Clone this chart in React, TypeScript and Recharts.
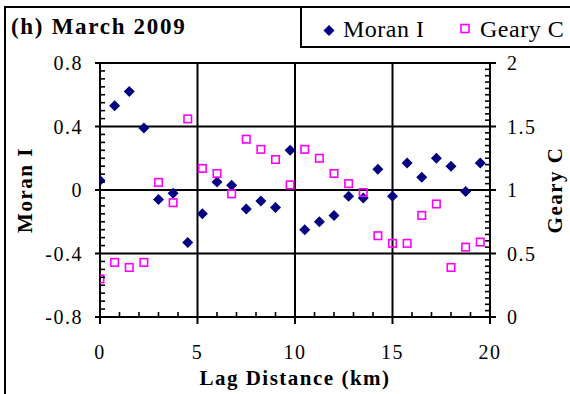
import React from 'react';
import { ScatterChart, Scatter, XAxis, YAxis, ReferenceLine, Legend } from 'recharts';

// Lag distance (km)
const lags = [0, 0.75, 1.5, 2.25, 3, 3.75, 4.5, 5.25, 6, 6.75, 7.5, 8.25, 9, 9.75, 10.5, 11.25, 12, 12.75, 13.5, 14.25, 15, 15.75, 16.5, 17.25, 18, 18.75, 19.5];
// Moran I (left axis)
const moranValues = [0.06, 0.53, 0.62, 0.39, -0.06, -0.02, -0.33, -0.15, 0.05, 0.03, -0.12, -0.07, -0.11, 0.25, -0.25, -0.2, -0.16, -0.04, -0.05, 0.13, -0.04, 0.17, 0.08, 0.2, 0.15, -0.01, 0.17];
// Geary C (right axis)
const gearyValues = [0.3, 0.43, 0.39, 0.43, 1.06, 0.9, 1.56, 1.17, 1.13, 0.97, 1.4, 1.32, 1.24, 1.04, 1.32, 1.25, 1.13, 1.05, 0.98, 0.64, 0.58, 0.58, 0.8, 0.89, 0.39, 0.55, 0.59];

const xMajorTicks = [0, 5, 10, 15, 20];
const xAllTicks = [0, 1, 2, 3, 4, 5, 6, 7, 8, 9, 10, 11, 12, 13, 14, 15, 16, 17, 18, 19, 20];
const leftMajorTicks = [-0.8, -0.4, 0, 0.4, 0.8];
const rightMajorTicks = [0, 0.5, 1, 1.5, 2];
const minorStep = 0.05;
const verticalGrid = [5, 10, 15];
const horizontalGrid = [-0.4, 0, 0.4, 0.8];

const makeTicks = (lo: number, hi: number, step: number) => {
  const n = Math.round((hi - lo) / step);
  return Array.from({ length: n + 1 }, (_, i) => Number((lo + i * step).toFixed(4)));
};
const leftAllTicks = makeTicks(-0.8, 0.8, minorStep);
const rightAllTicks = makeTicks(0, 2, minorStep);

const moranData = lags.map((x, i) => ({ x, y: moranValues[i] }));
const gearyData = lags.map((x, i) => ({ x, y: gearyValues[i] }));

const FONT = '"Liberation Serif", "Times New Roman", Times, serif';
const NAVY = '#000080';
const MAGENTA = '#FF00FF';
const LW = 2;
const MW = 1.6;

const fmt = (v: number) => String(Number(v.toFixed(2)));
const isMajor = (list: number[], v: number) => list.some((m) => Math.abs(m - v) < 1e-6);

const XTick = (props: any) => {
  const { x, y, payload } = props;
  if (!isMajor(xMajorTicks, payload.value)) {
    return <line x1={x} y1={y} x2={x} y2={y - 5} stroke="#000" strokeWidth={MW} />;
  }
  return (
    <g>
      <line x1={x} y1={y} x2={x} y2={y + 7} stroke="#000" strokeWidth={LW} />
      <text x={x} y={y + 42} textAnchor="middle" fontFamily={FONT} fontSize={20} letterSpacing={1.5} fill="#000">
        {fmt(payload.value)}
      </text>
    </g>
  );
};

const LeftTick = (props: any) => {
  const { x, y, payload } = props;
  if (!isMajor(leftMajorTicks, payload.value)) {
    return <line x1={x} y1={y} x2={x + 5} y2={y} stroke="#000" strokeWidth={MW} />;
  }
  return (
    <g>
      <line x1={x - 5} y1={y} x2={x} y2={y} stroke="#000" strokeWidth={LW} />
      <text x={x - 17} y={y + 7} textAnchor="end" fontFamily={FONT} fontSize={20} letterSpacing={1.5} fill="#000">
        {fmt(payload.value)}
      </text>
    </g>
  );
};

const RightTick = (props: any) => {
  const { x, y, payload } = props;
  if (!isMajor(rightMajorTicks, payload.value)) {
    return <line x1={x - 5} y1={y} x2={x} y2={y} stroke="#000" strokeWidth={MW} />;
  }
  return (
    <g>
      <line x1={x} y1={y} x2={x + 6} y2={y} stroke="#000" strokeWidth={LW} />
      <text x={x + 17} y={y + 7} textAnchor="start" fontFamily={FONT} fontSize={20} letterSpacing={1.5} fill="#000">
        {fmt(payload.value)}
      </text>
    </g>
  );
};

const Diamond = (props: any) => {
  const { cx, cy } = props;
  const r = 5.5;
  return <polygon points={`${cx},${cy - r} ${cx + r},${cy} ${cx},${cy + r} ${cx - r},${cy}`} fill={NAVY} />;
};

const Square = (props: any) => {
  const { cx, cy } = props;
  const s = 7.5;
  return <rect x={cx - s / 2} y={cy - s / 2} width={s} height={s} fill="none" stroke={MAGENTA} strokeWidth={1.6} />;
};

const LegendContent = (props: any) => {
  const { payload } = props;
  const items = payload || [];
  return (
    <div
      style={{
        width: 280,
        height: 41,
        borderLeft: '2px solid #000',
        borderBottom: '2px solid #000',
        boxSizing: 'border-box',
        position: 'relative',
      }}
    >
      <svg width={280} height={41} style={{ position: 'absolute', left: -2, top: 0 }}>
        {items.map((entry: any, i: number) => {
          const isMoran = entry.value === 'Moran I';
          const bx = isMoran ? 29 : 165;
          const tx = isMoran ? 43 : 180;
          return (
            <g key={i}>
              {isMoran ? (
                <polygon points={`${bx},${18} ${bx + 5.5},${23.5} ${bx},${29} ${bx - 5.5},${23.5}`} fill={NAVY} />
              ) : (
                <rect x={bx - 4} y={17.5} width={8} height={8} fill="none" stroke={MAGENTA} strokeWidth={1.6} />
              )}
              <text x={tx} y={30} fontFamily={FONT} fontSize={24} letterSpacing={0.5} fill="#000">
                {entry.value}
              </text>
            </g>
          );
        })}
      </svg>
    </div>
  );
};

const tickStroke = { stroke: '#000', strokeWidth: LW };

export default function App() {
  return (
    <div style={{ position: 'absolute', left: 0, top: 0, width: 570, height: 394, background: '#fff', overflow: 'hidden' }}>
      <div
        style={{
          position: 'absolute',
          left: 4,
          top: 6,
          width: 600,
          height: 420,
          borderLeft: '2px solid #000',
          borderTop: '2px solid #000',
        }}
      />
      <div
        style={{
          position: 'absolute',
          left: 11,
          top: 12,
          fontFamily: FONT,
          fontSize: 23,
          fontWeight: 'bold',
          letterSpacing: 1.7,
          lineHeight: '30px',
          color: '#000',
          whiteSpace: 'nowrap',
        }}
      >
        (h) March 2009
      </div>
      <div style={{ position: 'absolute', left: 0, top: 0 }}>
        <ScatterChart width={570} height={394} margin={{ top: 63, right: 0, bottom: 0, left: 0 }}>
          <XAxis
            type="number"
            dataKey="x"
            domain={[0, 20]}
            ticks={xAllTicks}
            interval={0}
            height={77}
            tickSize={0}
            tickMargin={0}
            tickLine={false}
            tick={<XTick />}
            axisLine={tickStroke}
            allowDataOverflow
            label={{
              value: 'Lag Distance (km)',
              position: 'insideBottom',
              offset: 9,
              style: { fontFamily: FONT, fontSize: 21, fontWeight: 'bold', letterSpacing: 1.5, fill: '#000' },
            }}
          />
          <YAxis
            yAxisId="left"
            type="number"
            dataKey="y"
            orientation="left"
            domain={[-0.8, 0.8]}
            ticks={leftAllTicks}
            interval={0}
            width={100}
            tickSize={0}
            tickMargin={0}
            tickLine={false}
            tick={<LeftTick />}
            axisLine={tickStroke}
            allowDataOverflow
            label={{
              value: 'Moran I',
              angle: -90,
              position: 'center',
              dx: -25,
              style: { fontFamily: FONT, fontSize: 21, fontWeight: 'bold', letterSpacing: 1.5, fill: '#000', textAnchor: 'middle' },
            }}
          />
          <YAxis
            yAxisId="right"
            type="number"
            dataKey="y"
            orientation="right"
            domain={[0, 2]}
            ticks={rightAllTicks}
            interval={0}
            width={80}
            tickSize={0}
            tickMargin={0}
            tickLine={false}
            tick={<RightTick />}
            axisLine={tickStroke}
            allowDataOverflow
            label={{
              value: 'Geary C',
              angle: -90,
              position: 'center',
              dx: 25,
              style: { fontFamily: FONT, fontSize: 21, fontWeight: 'bold', letterSpacing: 1.5, fill: '#000', textAnchor: 'middle' },
            }}
          />
          {verticalGrid.map((v) => (
            <ReferenceLine key={'v' + v} x={v} yAxisId="left" stroke="#000" strokeWidth={LW} />
          ))}
          {horizontalGrid.map((v) => (
            <ReferenceLine key={'h' + v} y={v} yAxisId="left" stroke="#000" strokeWidth={LW} />
          ))}
          <Legend
            layout="horizontal"
            verticalAlign="middle"
            align="center"
            content={<LegendContent />}
            wrapperStyle={{ left: 300, top: 7, width: 280, height: 41 }}
          />
          <Scatter name="Moran I" data={moranData} yAxisId="left" fill={NAVY} shape={<Diamond />} isAnimationActive={false} />
          <Scatter name="Geary C" data={gearyData} yAxisId="right" fill={MAGENTA} shape={<Square />} isAnimationActive={false} />
        </ScatterChart>
      </div>
    </div>
  );
}
